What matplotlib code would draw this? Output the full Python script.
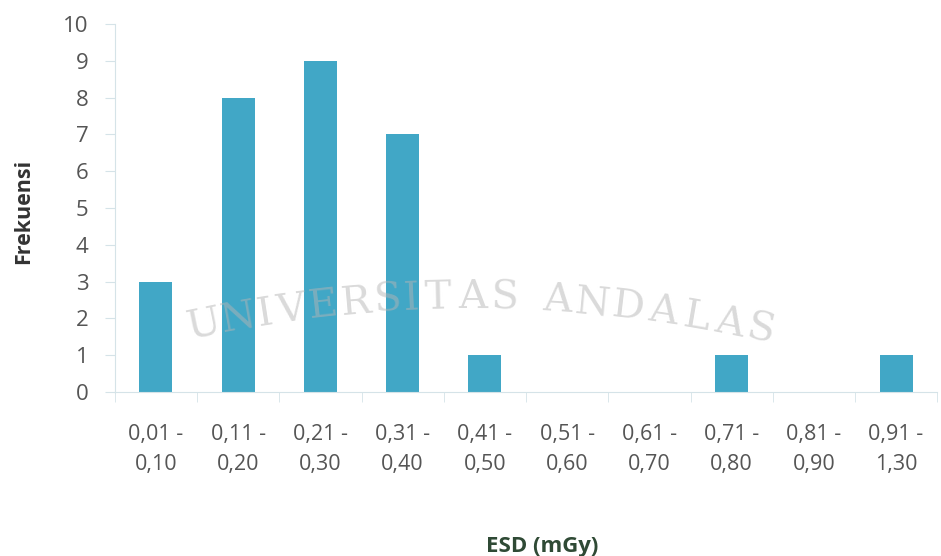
import numpy as np
import matplotlib.pyplot as plt

plt.rcParams['font.family'] = ['Open Sans', 'DejaVu Sans']

kelas = ["0,01 -\n0,10", "0,11 -\n0,20", "0,21 -\n0,30", "0,31 -\n0,40", "0,41 -\n0,50",
         "0,51 -\n0,60", "0,61 -\n0,70", "0,71 -\n0,80", "0,81 -\n0,90", "0,91 -\n1,30"]
frekuensi = [3, 8, 9, 7, 1, 0, 0, 1, 0, 1]
watermark = "UNIVERSITAS ANDALAS"

W, H = 941, 556
fig = plt.figure(figsize=(W / 100, H / 100), dpi=100)
ax = fig.add_axes([0.122, 0.295, 0.874, 0.662])

x = np.arange(len(kelas))
ax.bar(x, frekuensi, width=0.4, color="#41a7c6", zorder=2)

ax.set_xlim(-0.5, len(kelas) - 0.5)
ax.set_ylim(0, 10)
ax.set_yticks(range(0, 11))
ax.set_xticks(x)
ax.set_xticklabels(kelas, fontsize=15.5, color="#555555", linespacing=1.55)
ax.set_xticks(np.arange(-0.5, len(kelas)), minor=True)
ax.tick_params(axis="x", which="major", length=0, pad=23)
ax.tick_params(axis="x", which="minor", length=7, color="#d5e3e8", direction="out")
ax.tick_params(axis="y", labelsize=16, labelcolor="#555555", length=7, pad=12, color="#d5e3e8")

for side in ["top", "right"]:
    ax.spines[side].set_visible(False)
for side in ["left", "bottom"]:
    ax.spines[side].set_color("#d5e3e8")

ax.set_ylabel("Frekuensi", fontsize=15.5, fontweight="bold", color="#333333")
ax.yaxis.set_label_coords(-0.098, 0.49)
ax.set_xlabel("ESD (mGy)", fontsize=16, fontweight="bold", color="#2f4a35")
ax.xaxis.set_label_coords(0.52, -0.39)

# watermark letters laid along a shallow arc (pixel coords, y downward)
weights = {"I": 0.5, " ": 0.6, "E": 0.85, "S": 0.8, "L": 0.9}
adv = np.array([weights.get(c, 1.0) for c in watermark])
s = np.concatenate([[0], np.cumsum((adv[:-1] + adv[1:]) / 2)])
s = s / s[-1] * 561 + 202
R, cx, ytop = 1325.0, 470.0, 298.0
for ch, si in zip(watermark, s):
    if ch == " ":
        continue
    th = (si - cx) / R
    px = cx + R * np.sin(th)
    py = ytop + R * (1 - np.cos(th))
    fig.text(px / W, 1 - py / H, ch, fontsize=29, family="DejaVu Serif",
             color="#b5b5b5", alpha=0.5, rotation=-np.degrees(th),
             ha="center", va="center", rotation_mode="anchor", zorder=5)

fig.savefig("out.png", dpi=100, facecolor="white")
